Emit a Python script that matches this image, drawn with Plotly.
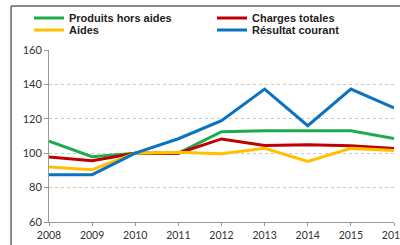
import plotly.graph_objects as go

years = [2008, 2009, 2010, 2011, 2012, 2013, 2014, 2015, 2016]
produits_hors_aides = [107, 98, 100, 100, 112.5, 113, 113, 113, 108.6]
charges_totales = [97.8, 95.6, 100, 100, 108.3, 104.5, 104.9, 104.4, 102.8]
aides = [92, 90.4, 100, 100.5, 99.7, 102.8, 95.2, 102.8, 101.6]
resultat_courant = [87.5, 87.5, 100, 108.4, 118.9, 137.3, 116, 137.3, 126.3]

series = [
    ("Produits hors aides", produits_hors_aides, "#1faa4e", "legend"),
    ("Charges totales", charges_totales, "#c00000", "legend2"),
    ("Aides", aides, "#ffc000", "legend3"),
    ("Résultat courant", resultat_courant, "#0b72c1", "legend4"),
]

fig = go.Figure()
for name, vals, col, leg in series:
    fig.add_trace(go.Scatter(x=years, y=vals, name=name, mode="lines",
                             line=dict(color=col, width=3), legend=leg))

leg_font = dict(family="Liberation Sans, Arial", size=11, color="#222", weight="bold")

def leg(x, y):
    return dict(xref="container", yref="container", x=x, y=y,
                xanchor="left", yanchor="middle", font=leg_font,
                itemwidth=30, bgcolor="rgba(0,0,0,0)", borderwidth=0)

fig.update_layout(
    width=400, height=245,
    margin=dict(l=49, r=6, t=50, b=23, autoexpand=False),
    paper_bgcolor="white", plot_bgcolor="white",
    showlegend=True,
    legend=leg(29 / 400, 1 - 18 / 245),
    legend2=leg(212 / 400, 1 - 18 / 245),
    legend3=leg(29 / 400, 1 - 30 / 245),
    legend4=leg(212 / 400, 1 - 30 / 245),
    xaxis=dict(range=[2008, 2016], tickvals=years, showgrid=False,
               showline=True, linecolor="#999", linewidth=1,
               ticks="outside", ticklen=3, tickcolor="#999", ticklabeloverflow="allow",
               tickfont=dict(family="Lato", size=10.5, color="#333"), fixedrange=True),
    yaxis=dict(range=[60, 160], tickvals=[60, 80, 100, 120, 140, 160], showgrid=True,
               gridcolor="#c8c8c8", griddash="dot", gridwidth=1, zeroline=False,
               showline=True, linecolor="#999", linewidth=1,
               ticks="outside", ticklen=4, tickcolor="#999",
               tickfont=dict(family="Lato", size=11, color="#333")),
    shapes=[dict(type="line", xref="paper", yref="paper", x0=-0.110, x1=1.2, y0=1.256, y1=1.256,
                 line=dict(color="#666", width=1.5)),
            dict(type="line", xref="paper", yref="paper", x0=-0.110, x1=-0.110, y0=1.256, y1=-0.3,
                 line=dict(color="#666", width=1.5))],
)

fig.write_html("out.html", config={"displayModeBar": False},
               post_script="document.body.style.margin='0px';")
